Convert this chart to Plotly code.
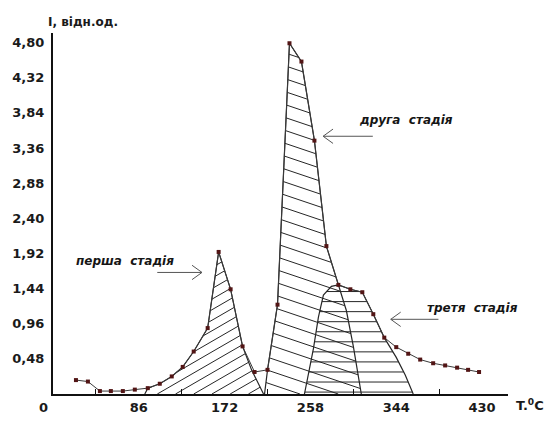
import numpy as np
import plotly.graph_objects as go

# Measured thermoluminescence curve
T = [23, 35, 47, 58, 70, 82, 95, 107, 119, 130, 141, 155, 166, 178, 190, 202, 215,
     225, 237, 249, 262, 274, 286, 298, 310, 321, 332, 344, 356, 368, 381, 393, 405, 416, 427]
I = [0.19, 0.17, 0.04, 0.04, 0.04, 0.06, 0.08, 0.14, 0.24, 0.37, 0.58, 0.90, 1.94, 1.43,
     0.65, 0.30, 0.33, 1.22, 4.79, 4.54, 3.46, 2.02, 1.49, 1.43, 1.39, 1.09, 0.77, 0.64,
     0.55, 0.47, 0.42, 0.39, 0.36, 0.33, 0.30]

# Outlines of the three stages (closed along the baseline)
stage1_T = [92, 95, 107, 119, 130, 141, 155, 166, 178, 190, 199, 211]
stage1_I = [0, 0.08, 0.14, 0.24, 0.37, 0.58, 0.90, 1.94, 1.43, 0.65, 0.33, 0]
stage2_T = [212, 215, 225, 237, 249, 262, 274, 286, 294, 301, 306, 309]
stage2_I = [0, 0.33, 1.22, 4.79, 4.54, 3.46, 2.02, 1.49, 1.14, 0.65, 0.26, 0]
stage3_T = [252, 261, 266, 271, 279, 286, 298, 310, 321, 332, 344, 353, 361]
stage3_I = [0, 0.62, 1.05, 1.35, 1.47, 1.49, 1.43, 1.39, 1.09, 0.77, 0.50, 0.26, 0]

x_ticks = [86, 172, 258, 344, 430]
x_minor = [43, 129, 215, 301, 387]
y_ticks = [0.48, 0.96, 1.44, 1.92, 2.40, 2.88, 3.36, 3.84, 4.32, 4.80]
y_labels = [f"{v:.2f}".replace(".", ",") for v in y_ticks]

W, H = 554, 427
ML, MR, MT, MB = 50, 46, 33, 17
PW, PH = W - ML - MR, H - MT - MB
XR = [0, 456]
YR = [0, 4.93]
sx = PW / (XR[1] - XR[0])   # px per degree
sy = PH / (YR[1] - YR[0])   # px per unit


def hatch(Ts, Is, k, step, offset=0.0):
    """Parallel hatch lines v = k*u + c clipped to a polygon (pixel space, y up)."""
    u = np.array(Ts, float) * sx
    v = np.array(Is, float) * sy
    n = len(u)
    c_all = v - k * u
    start = offset + step * np.ceil((c_all.min() - offset) / step)
    xs, ys = [], []
    for c in np.arange(start, c_all.max(), step):
        pts = []
        for i in range(n):
            j = (i + 1) % n
            f1 = v[i] - k * u[i] - c
            f2 = v[j] - k * u[j] - c
            if (f1 > 0) != (f2 > 0):
                t = f1 / (f1 - f2)
                pts.append(u[i] + t * (u[j] - u[i]))
        pts.sort()
        for a, b in zip(pts[0::2], pts[1::2]):
            xs += [a / sx, b / sx, None]
            ys += [(k * a + c) / sy, (k * b + c) / sy, None]
    return xs, ys


fig = go.Figure()
ink = "#262626"

for (ts, is_, k, step, off) in [
    (stage1_T, stage1_I, 0.6, 11.0, 3.0),
    (stage2_T, stage2_I, -0.35, 13.5, 6.0),
    (stage3_T, stage3_I, 0.0, 10.5, 2.0),
]:
    hx, hy = hatch(ts, is_, k, step, off)
    fig.add_trace(go.Scatter(x=hx, y=hy, mode="lines", line=dict(color=ink, width=1),
                             hoverinfo="skip", showlegend=False))
    fig.add_trace(go.Scatter(x=ts, y=is_, mode="lines", line=dict(color=ink, width=1.2),
                             hoverinfo="skip", showlegend=False))

fig.add_trace(go.Scatter(
    x=T, y=I, mode="lines+markers",
    line=dict(color="#3a3a3a", width=1),
    marker=dict(symbol="square", size=4, color="#521515"),
    showlegend=False,
))


def px2dx(d):
    return d / sx


def px2dy(d):
    return d / sy


shapes = []


def arrow(x0, x1, y, tip_left):
    col = "#555555"
    shapes.append(dict(type="line", xref="x", yref="y", x0=x0, x1=x1, y0=y, y1=y,
                       line=dict(color=col, width=1)))
    tip = x0 if tip_left else x1
    back = tip + px2dx(10) if tip_left else tip - px2dx(10)
    for s in (1, -1):
        shapes.append(dict(type="line", xref="x", yref="y", x0=tip, y0=y,
                           x1=back, y1=y + s * px2dy(7.5),
                           line=dict(color=col, width=1)))


arrow(104.5, 149.3, 1.66, tip_left=False)
arrow(270.7, 320.5, 3.52, tip_left=True)
arrow(338.5, 386.3, 1.02, tip_left=True)

# little cross at the origin
shapes.append(dict(type="line", xref="x", yref="y", x0=-px2dx(5), x1=0, y0=0, y1=0,
                   line=dict(color="#111", width=2)))
shapes.append(dict(type="line", xref="x", yref="y", x0=0, x1=0, y0=0, y1=-px2dy(5),
                   line=dict(color="#111", width=2)))


def paper_x(px):
    return (px - ML) / PW


def paper_y(py):
    return 1 - (py - MT) / PH


lab_font = dict(family="DejaVu Sans", size=12, color="#151515", style="italic", weight="bold")
ann = [
    dict(x=71.7, y=1.81, xref="x", yref="y", text="перша\u00a0 стадія", showarrow=False,
         font=lab_font),
    dict(x=353.3, y=3.74, xref="x", yref="y", text="друга\u00a0 стадія", showarrow=False,
         font=lab_font),
    dict(x=420, y=1.18, xref="x", yref="y", text="третя\u00a0 стадія", showarrow=False,
         font=lab_font),
    dict(x=0, y=0, xref="x", yref="y", text="0", showarrow=False, xshift=-10, yshift=-13,
         font=dict(family="DejaVu Sans", size=13, color="#1a1a1a", weight="bold")),
    dict(x=paper_x(43), y=paper_y(22), xref="paper", yref="paper", text="I, відн.од.",
         showarrow=False, xanchor="left", yanchor="middle",
         font=dict(family="DejaVu Sans", size=12, color="#1a1a1a", weight="bold")),
    dict(x=paper_x(514), y=paper_y(422), xref="paper", yref="paper",
         text="T.<sup>0</sup>C", showarrow=False, xanchor="left", yanchor="middle",
         font=dict(family="DejaVu Sans", size=13, color="#1a1a1a", weight="bold")),
]

tick_font = dict(family="DejaVu Sans", size=13, color="#1a1a1a", weight="bold")
fig.update_layout(
    width=W, height=H, autosize=False,
    margin=dict(l=ML, r=MR, t=MT, b=MB, pad=0),
    paper_bgcolor="white", plot_bgcolor="white",
    shapes=shapes, annotations=ann,
    xaxis=dict(range=XR, showgrid=False, zeroline=False, showline=True,
               linecolor="#111", linewidth=2, tickvals=x_ticks,
               ticktext=[str(v) for v in x_ticks], ticks="", tickfont=tick_font,
               minor=dict(tickvals=x_minor, ticks="inside", ticklen=5,
                          tickcolor="#111", tickwidth=1)),
    yaxis=dict(range=YR, showgrid=False, zeroline=False, showline=True,
               linecolor="#111", linewidth=2, tickvals=y_ticks, ticktext=y_labels,
               ticks="", tickfont=tick_font, ticklabelstandoff=4),
)

fig.write_html("out.html")
